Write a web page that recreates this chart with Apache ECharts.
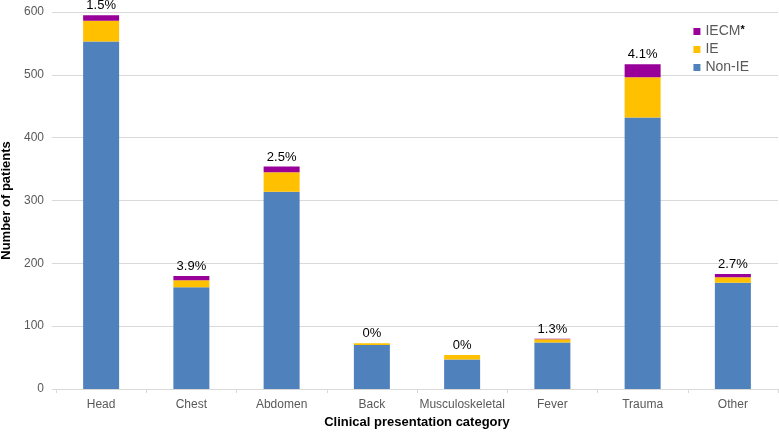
<!DOCTYPE html>
<html>
<head>
<meta charset="utf-8">
<script src="https://cdn.jsdelivr.net/npm/echarts@6/dist/echarts.min.js"></script>
<style>html,body{margin:0;padding:0;background:#fff}#c{width:779px;height:433px}</style>
</head>
<body>
<div id="c"></div>
<script>
var categories = ['Head', 'Chest', 'Abdomen', 'Back', 'Musculoskeletal', 'Fever', 'Trauma', 'Other'];
var nonIE = [553, 162, 314, 70, 47, 74, 432, 169];
var ie = [33, 11, 31, 3, 7, 5, 64, 9];
var iecm = [9, 7, 9, 0, 0, 1, 21, 5];
var pctLabels = ['1.5%', '3.9%', '2.5%', '0%', '0%', '1.3%', '4.1%', '2.7%'];
var yTicks = [0, 100, 200, 300, 400, 500, 600];

var FONT = '"Liberation Sans", Arial, sans-serif';
var chart = echarts.init(document.getElementById('c'));
chart.setOption({
  animation: false,
  textStyle: { fontFamily: FONT },
  grid: { left: 56, right: 1, top: 12, bottom: 44, containLabel: false, outerBoundsMode: 'none' },
  legend: {
    orient: 'vertical',
    right: 25,
    top: 19,
    itemWidth: 7,
    itemHeight: 7,
    itemGap: 3,
    icon: 'rect',
    data: ['IECM', 'IE', 'Non-IE'],
    formatter: function (n) { return n === 'IECM' ? 'IECM{sup|*}' : n; },
    textStyle: {
      fontFamily: FONT, fontSize: 14, lineHeight: 15, color: '#595959',
      rich: { sup: { fontSize: 11, lineHeight: 15, fontWeight: 'bold', color: '#000', verticalAlign: 'top', padding: [0, 0, 4, 0] } }
    }
  },
  xAxis: {
    type: 'category',
    data: categories,
    name: 'Clinical presentation category',
    nameLocation: 'middle',
    nameGap: 26,
    nameTextStyle: { fontFamily: FONT, fontSize: 13, fontWeight: 'bold', color: '#000' },
    axisLine: { lineStyle: { color: '#d9d9d9' } },
    axisTick: { show: true, length: 4, lineStyle: { color: '#d9d9d9' } },
    axisLabel: { fontFamily: FONT, fontSize: 12, color: '#595959', margin: 10, interval: 0 }
  },
  yAxis: {
    type: 'value',
    min: yTicks[0],
    max: yTicks[yTicks.length - 1],
    interval: 100,
    name: 'Number of patients',
    nameLocation: 'middle',
    nameGap: 35,
    nameTextStyle: { fontFamily: FONT, fontSize: 13, fontWeight: 'bold', color: '#000' },
    axisLine: { show: false },
    axisTick: { show: true, length: 4, lineStyle: { color: '#d9d9d9' } },
    axisLabel: { fontFamily: FONT, fontSize: 12, color: '#595959', margin: 12 },
    splitLine: { lineStyle: { color: '#d9d9d9' } }
  },
  series: [
    { name: 'Non-IE', type: 'bar', stack: 's', data: nonIE, barWidth: 36, itemStyle: { color: '#4f81bd' } },
    { name: 'IE', type: 'bar', stack: 's', data: ie, barWidth: 36, itemStyle: { color: '#ffc000' } },
    { name: 'IECM', type: 'bar', stack: 's', data: iecm, barWidth: 36, itemStyle: { color: '#990099' },
      label: {
        show: true, position: 'top', distance: 3,
        fontFamily: FONT, fontSize: 13, color: '#000',
        formatter: function (p) { return pctLabels[p.dataIndex]; }
      }
    }
  ]
});
</script>
</body>
</html>
